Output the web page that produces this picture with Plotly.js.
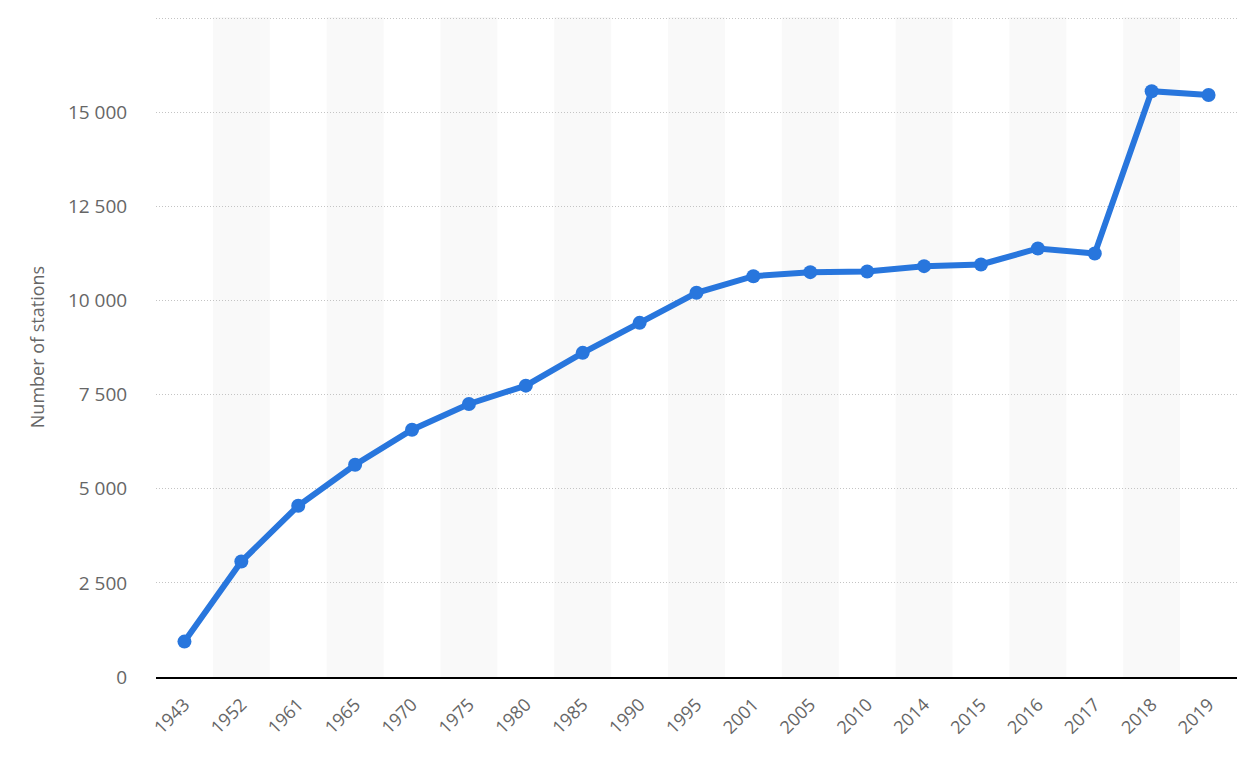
<!DOCTYPE html>
<html>
<head>
<meta charset="utf-8">
<script src="https://cdn.plot.ly/plotly-3.0.1.min.js"></script>
<style>html,body{margin:0;padding:0;background:#fff;}#chart{width:1238px;height:758px;}</style>
</head>
<body>
<div id="chart"></div>
<script>
const years = ["1943","1952","1961","1965","1970","1975","1980","1985","1990","1995","2001","2005","2010","2014","2015","2016","2017","2018","2019"];
const stations = [940,3066,4548,5638,6569,7253,7739,8609,9407,10205,10646,10753,10771,10912,10957,11383,11250,15559,15460];
const yTickVals = [0,2500,5000,7500,10000,12500,15000,17500];
const yTickText = ["0","2 500","5 000","7 500","10 000","12 500","15 000",""];
const yTitle = "Number of stations";

const shapes = [];
years.forEach((y, i) => {
  if (i % 2 === 1) {
    shapes.push({type:'rect', xref:'x', yref:'paper', x0:i-0.5, x1:i+0.5, y0:0, y1:1,
      fillcolor:'#f9f9f9', line:{width:0}, layer:'below'});
  }
});

const trace = {
  x: years, y: stations, type:'scatter', mode:'lines+markers',
  line:{color:'#2876dd', width:6},
  marker:{color:'#2876dd', size:14},
  hoverinfo:'x+y'
};

const layout = {
  width:1238, height:758,
  margin:{l:156, r:1, t:17, b:81},
  paper_bgcolor:'#fff', plot_bgcolor:'rgba(0,0,0,0)',
  font:{family:'"Open Sans", sans-serif', color:'#666', size:18},
  showlegend:false,
  shapes: shapes,
  xaxis:{
    type:'category', range:[-0.5, 18.5],
    showgrid:false, zeroline:false,
    showline:true, linecolor:'#000', linewidth:2,
    ticks:'outside', ticklen:8, tickcolor:'rgba(0,0,0,0)',
    tickangle:-45, tickfont:{size:18, color:'#666'}
  },
  yaxis:{
    range:[0, 17530],
    tickvals:yTickVals, ticktext:yTickText,
    showgrid:true, gridcolor:'#c4c4c4', griddash:'1px,2px', gridwidth:1,
    zeroline:false, showline:false,
    ticks:'outside', ticklen:24, tickcolor:'rgba(0,0,0,0)',
    tickfont:{size:19, color:'#666'},
    title:{text:yTitle, font:{size:18, color:'#666'}, standoff:18},
    automargin:false
  }
};

Plotly.newPlot('chart', [trace], layout, {displayModeBar:false, staticPlot:true});
</script>
</body>
</html>
